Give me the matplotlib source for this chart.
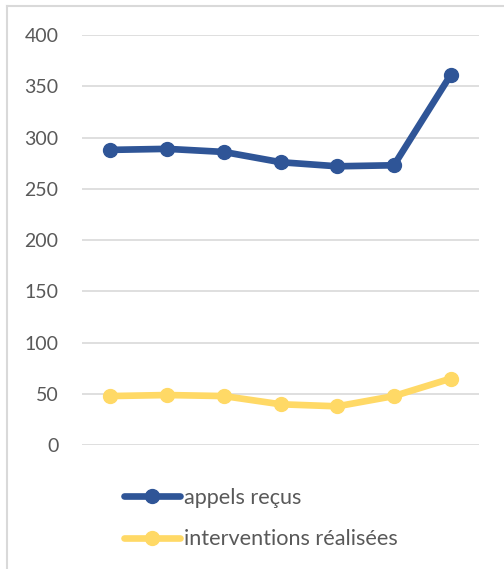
import matplotlib
matplotlib.use('Agg')
import matplotlib.pyplot as plt
from matplotlib.lines import Line2D

# data
categories = ['1', '2', '3', '4', '5', '6', '7']
appels_recus = [288, 289, 286, 276, 272, 273, 361]
interventions = [48, 49, 48, 40, 38, 48, 65]
y_ticks = [0, 50, 100, 150, 200, 250, 300, 350, 400]

BLUE = '#2F5597'
GOLD = '#FFD966'
GRID = '#D9D9D9'
TEXT = '#595959'

plt.rcParams['font.family'] = ['Lato', 'DejaVu Sans']

fig = plt.figure(figsize=(5.04, 5.69), dpi=100)
ax = fig.add_axes([82 / 504, 1 - 445.3 / 569, 397 / 504, 410.3 / 569])

x = range(len(categories))
ax.plot(x, appels_recus, color=BLUE, lw=4.8, marker='o', ms=10,
        label='appels reçus', solid_capstyle='round')
ax.plot(x, interventions, color=GOLD, lw=4.8, marker='o', ms=10,
        label='interventions réalisées', solid_capstyle='round')

ax.set_xlim(-0.5, len(categories) - 0.5)
ax.set_ylim(0, 400)
ax.set_yticks(y_ticks)
ax.set_xticks([])
ax.yaxis.grid(True, color=GRID, lw=1.2)
ax.set_axisbelow(True)
for s in ax.spines.values():
    s.set_visible(False)
ax.tick_params(axis='y', length=0, pad=17, labelsize=14, labelcolor=TEXT)
ax.patch.set_alpha(0)

fig.legend(loc='center left', bbox_to_anchor=(124 / 504, 1 - 518.5 / 569),
           frameon=False, fontsize=15.6, handlelength=2.6, handletextpad=0.15,
           labelspacing=1.0, borderpad=0, borderaxespad=0, labelcolor=TEXT)

# thin outer frame on top and left edges
fig.add_artist(Line2D([7 / 504, 7 / 504], [0, 1 - 6 / 569], color=GRID, lw=1.5,
                      transform=fig.transFigure))
fig.add_artist(Line2D([7 / 504, 1], [1 - 6 / 569, 1 - 6 / 569], color=GRID, lw=1.5,
                      transform=fig.transFigure))

fig.savefig('out.png', dpi=100)
